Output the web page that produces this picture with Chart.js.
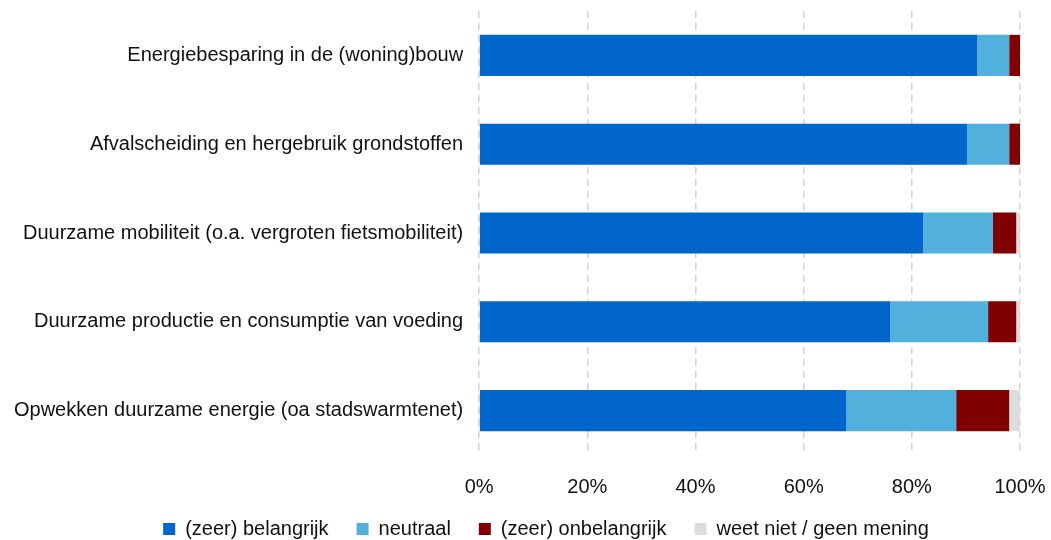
<!DOCTYPE html>
<html>
<head>
<meta charset="utf-8">
<script src="https://cdn.jsdelivr.net/npm/chart.js@4/dist/chart.umd.min.js"></script>
<style>
  html, body { margin: 0; padding: 0; background: #fff; }
  #wrap { width: 1051px; height: 540px; }
</style>
</head>
<body>
<div id="wrap"><canvas id="chart"></canvas></div>
<script>
const categories = [
  'Energiebesparing in de (woning)bouw',
  'Afvalscheiding en hergebruik grondstoffen',
  'Duurzame mobiliteit (o.a. vergroten fietsmobiliteit)',
  'Duurzame productie en consumptie van voeding',
  'Opwekken duurzame energie (oa stadswarmtenet)'
];
const seriesNames = ['(zeer) belangrijk', 'neutraal', '(zeer) onbelangrijk', 'weet niet / geen mening'];
const belangrijk = [92.1, 90.2, 82.1, 76.0, 67.9];
const neutraal = [5.9, 7.8, 12.9, 18.1, 20.3];
const onbelangrijk = [2.0, 2.0, 4.3, 5.2, 9.8];
const weetNiet = [0, 0, 0.7, 0.7, 2.0];
const xTicks = [0, 20, 40, 60, 80, 100];

const colors = ['#0066cc', '#51b0dc', '#800000', '#dddddd'];
const values = [belangrijk, neutraal, onbelangrijk, weetNiet];

const font = { family: '"Liberation Sans", Arial, sans-serif', size: 20 };

// legenda: ruime afstand tussen items, maar compacter en hoger geplaatst
const legendFit = {
  id: 'legendFit',
  afterInit(chart) {
    const lg = chart.legend;
    if (!lg) return;
    const fit = lg.fit;
    lg.fit = function () {
      fit.call(this);
      this.height = 21;
    };
  },
  afterLayout(chart) {
    const lg = chart.legend;
    if (!lg) return;
    lg.top = 491; // onderkant blijft staan, dus niets wordt afgeknipt
    lg.left += 33;
    lg.right += 33;
  }
};

new Chart(document.getElementById('chart'), {
  type: 'bar',
  data: {
    labels: categories,
    datasets: seriesNames.map((name, i) => ({
      label: name,
      data: values[i],
      backgroundColor: colors[i],
      borderWidth: 0,
      categoryPercentage: 1,
      barPercentage: 0.463
    }))
  },
  plugins: [legendFit],
  options: {
    indexAxis: 'y',
    responsive: true,
    maintainAspectRatio: false,
    animation: false,
    layout: { padding: { top: 11, right: 31, left: 6, bottom: 0 } },
    plugins: {
      legend: {
        position: 'bottom',
        labels: {
          font,
          color: '#111',
          boxWidth: 12,
          boxHeight: 12,
          padding: 28
        }
      },
      tooltip: { enabled: false }
    },
    scales: {
      x: {
        stacked: true,
        min: 0,
        max: 100,
        afterBuildTicks: axis => { axis.ticks = xTicks.map(v => ({ value: v })); },
        afterFit: axis => { axis.paddingLeft = 0; axis.paddingRight = 0; },
        ticks: {
          font,
          color: '#111',
          padding: 20,
          callback: v => v + '%'
        },
        grid: { color: '#d4d4d4', lineWidth: 1.5, drawTicks: false },
        border: { display: false, dash: [7, 5] }
      },
      y: {
        stacked: true,
        afterFit: axis => { axis.paddingTop = 0; axis.paddingBottom = 0; },
        ticks: { font, color: '#111', padding: 8 },
        grid: { display: false },
        border: { display: false }
      }
    }
  }
});
</script>
</body>
</html>
